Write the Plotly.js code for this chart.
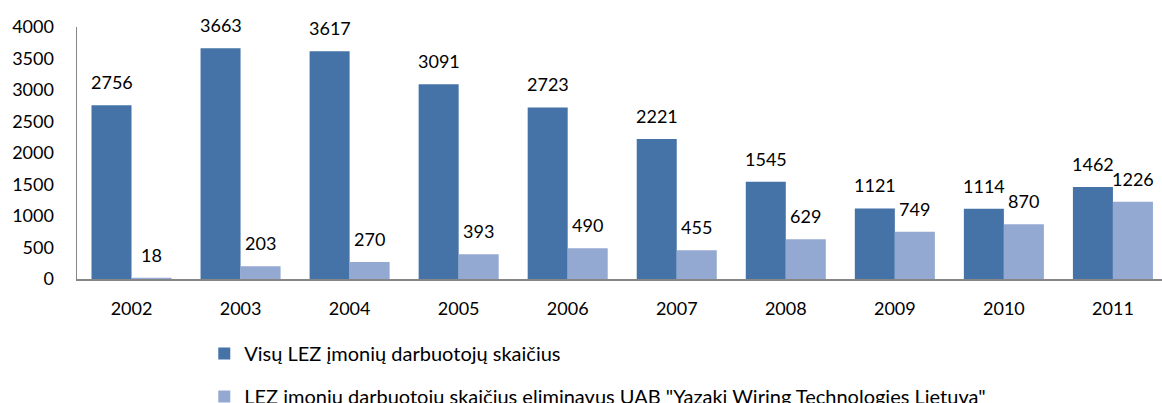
<!DOCTYPE html>
<html>
<head>
<meta charset="utf-8">
<script src="https://cdn.plot.ly/plotly-3.0.1.min.js"></script>
<style>html,body{margin:0;padding:0;background:#fff;}#chart{width:1162px;height:403px;}</style>
</head>
<body>
<div id="chart"></div>
<script>
const years = ['2002','2003','2004','2005','2006','2007','2008','2009','2010','2011'];
const allEmployees = [2756,3663,3617,3091,2723,2221,1545,1121,1114,1462];
const withoutYazaki = [18,203,270,393,490,455,629,749,870,1226];
const seriesNames = ['Visų LEZ įmonių darbuotojų skaičius',
  'LEZ įmonių darbuotojų skaičius eliminavus UAB "Yazaki Wiring Technologies Lietuva"'];
const yTicks = [0,500,1000,1500,2000,2500,3000,3500,4000];

const colors = ['#4573A7','#93A9D1'];
const FONT = 'Lato, "Open Sans", sans-serif';

const traces = [
  {type:'bar', x:years, y:allEmployees, name:seriesNames[0], marker:{color:colors[0]}, legendgroup:'a', hoverinfo:'skip'},
  {type:'bar', x:years, y:withoutYazaki, name:seriesNames[1], marker:{color:colors[1]}, legendgroup:'b', hoverinfo:'skip'}
];

const annotations = [];
years.forEach((yr,i)=>{
  annotations.push({x:i, y:allEmployees[i], xref:'x', yref:'y', text:String(allEmployees[i]), showarrow:false, yanchor:'bottom', xshift:-20, yshift:10, font:{family:FONT,size:18,color:'#000'}});
  annotations.push({x:i, y:withoutYazaki[i], xref:'x', yref:'y', text:String(withoutYazaki[i]), showarrow:false, yanchor:'bottom', xshift:20, yshift:10, font:{family:FONT,size:18,color:'#000'}});
});

const layout = {
  width:1162, height:403,
  margin:{l:77, r:0, t:27, b:124, autoexpand:false},
  paper_bgcolor:'#fff', plot_bgcolor:'#fff',
  font:{family:FONT, size:18, color:'#000'},
  barmode:'group', bargap:0.266, bargroupgap:0,
  xaxis:{type:'category', range:[-0.5, 9.45], showgrid:false, zeroline:false, showline:true, linecolor:'#868686', linewidth:1.5,
    ticks:'outside', ticklen:13, tickcolor:'rgba(0,0,0,0)', tickfont:{family:FONT,size:18}},
  yaxis:{range:[0,4000], tickvals:yTicks, showgrid:false, zeroline:false, showline:true, linecolor:'#868686', linewidth:1.5,
    ticks:'outside', ticklen:18, tickcolor:'rgba(0,0,0,0)', tickfont:{family:FONT,size:18}},
  showlegend:true,
  legend:{orientation:'v', x:0.1173, y:-0.218, xanchor:'left', yanchor:'top',
    tracegroupgap:14, traceorder:'grouped', font:{family:FONT,size:20}, bgcolor:'rgba(0,0,0,0)'},
  annotations:annotations
};

Plotly.newPlot('chart', traces, layout, {staticPlot:true, displayModeBar:false});
</script>
</body>
</html>
